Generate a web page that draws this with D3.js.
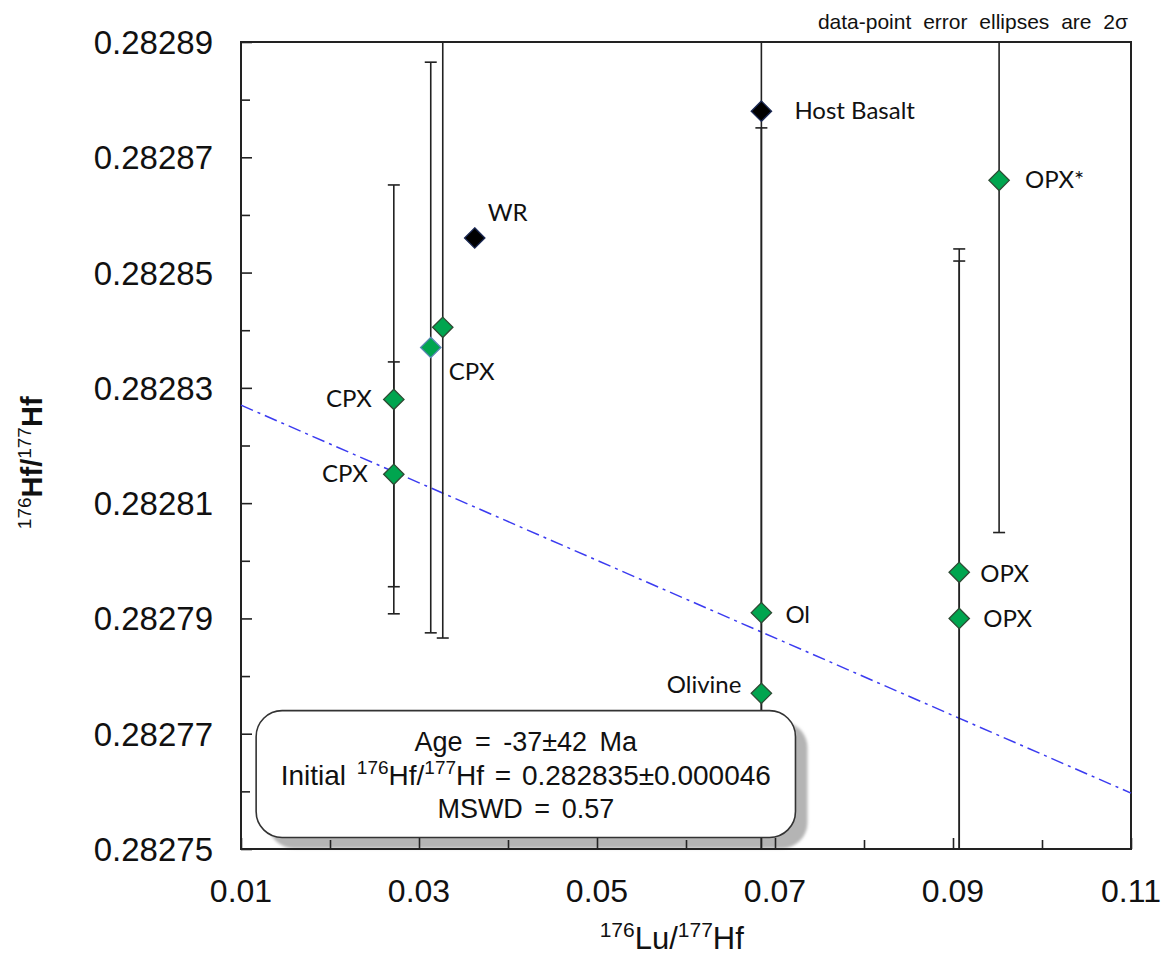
<!DOCTYPE html>
<html>
<head>
<meta charset="utf-8">
<script src="https://cdn.jsdelivr.net/npm/d3@7"></script>
<style>
  html, body { margin: 0; padding: 0; background: #fff; }
  svg text { font-family: "Liberation Sans", Arial, sans-serif; }
</style>
</head>
<body>
<div id="chart"></div>
<script>
// ===========================
// Lu-Hf isochron plot
// 176Lu/177Hf vs 176Hf/177Hf, mineral separates + whole rock
// ===========================

// ── Data ──────────────────────────────────────────────────────────────────
const sampleLabels = ['CPX', 'CPX', 'CPX', '', 'WR', 'Host Basalt', 'Ol', 'Olivine', 'OPX*', 'OPX', 'OPX'];
const sampleType   = ['mineral', 'mineral', 'mineral-alt', 'mineral', 'rock', 'rock', 'mineral', 'mineral', 'mineral', 'mineral', 'mineral'];
const luHf         = [0.02717, 0.02717, 0.03132, 0.03267, 0.03626, 0.06847, 0.06847, 0.06847, 0.09518, 0.0907, 0.0907];
const hfHf         = [0.282828, 0.282815, 0.282837, 0.2828405, 0.282856, 0.282878, 0.282791, 0.282777, 0.282866, 0.282798, 0.282790];
const hfErr2s      = [0.0000372, 0.0000195, 0.0000495, 0.0000539, 0, 0, 0.0000841, 0.000120, 0.0000611, 0.0000540, 0.0000641];

// isochron (regression line) end values
const isoX = [0.01, 0.11];
const isoY = [0.282827, 0.2827597];

const xMajorTicks = [0.01, 0.03, 0.05, 0.07, 0.09, 0.11];
const xMinorTicks = [0.02, 0.04, 0.06, 0.08, 0.10];
const yMajorTicks = [0.28275, 0.28277, 0.28279, 0.28281, 0.28283, 0.28285, 0.28287, 0.28289];
const yMinorTicks = [0.28276, 0.28278, 0.28280, 0.28282, 0.28284, 0.28286, 0.28288];

const resultLines = ['Age = -37±42 Ma', 'Hf = 0.282835±0.000046', 'MSWD = 0.57'];

// label offsets in px relative to each point (layout only)
const labelOffset = [
    { dx: -22, dy: 8, anchor: 'end' },
    { dx: -26, dy: 8, anchor: 'end' },
    { dx: 18, dy: 32, anchor: 'start' },
    null,
    { dx: 13, dy: -17, anchor: 'start' },
    { dx: 33, dy: 8, anchor: 'start' },
    { dx: 24, dy: 10, anchor: 'start' },
    { dx: -20, dy: 0, anchor: 'end' },
    { dx: 26, dy: 8, anchor: 'start' },
    { dx: 21, dy: 10, anchor: 'start' },
    { dx: 24, dy: 9, anchor: 'start' }
];

// ── Layout ────────────────────────────────────────────────────────────────
const width = 1169, height = 958;
const margin = { top: 42, right: 38, bottom: 109, left: 241 };
const innerW = width - margin.left - margin.right;
const innerH = height - margin.top - margin.bottom;

const svg = d3.select('#chart').append('svg')
    .attr('width', width)
    .attr('height', height);

const defs = svg.append('defs');
defs.append('clipPath').attr('id', 'plot-clip')
    .append('rect').attr('width', innerW).attr('height', innerH);
defs.append('filter').attr('id', 'soft')
    .attr('x', '-10%').attr('y', '-10%').attr('width', '120%').attr('height', '130%')
    .append('feGaussianBlur').attr('stdDeviation', 1.6);

const g = svg.append('g')
    .attr('transform', `translate(${margin.left},${margin.top})`);

// ── Scales ────────────────────────────────────────────────────────────────
const x = d3.scaleLinear().domain([0.01, 0.11]).range([0, innerW]);
const y = d3.scaleLinear().domain([0.28275, 0.28289]).range([innerH, 0]);

// ── Results box shadow (sits under ticks and error bars) ─────────────────
const box = { x0: 0.0117, x1: 0.0723, y0: 0.282752, y1: 0.282774 };
g.append('rect')
    .attr('x', x(box.x0) + 12)
    .attr('y', y(box.y1) + 11)
    .attr('width', x(box.x1) - x(box.x0))
    .attr('height', y(box.y0) - y(box.y1))
    .attr('rx', 26)
    .attr('fill', '#b4b4b4')
    .attr('filter', 'url(#soft)');

// ── Frame and ticks ───────────────────────────────────────────────────────
g.append('rect')
    .attr('width', innerW)
    .attr('height', innerH)
    .attr('fill', 'none')
    .attr('stroke', '#222')
    .attr('stroke-width', 2);

const yAxisMajor = g.append('g')
    .call(d3.axisRight(y).tickValues(yMajorTicks).tickSize(11).tickFormat(''));
const yAxisMinor = g.append('g')
    .call(d3.axisRight(y).tickValues(yMinorTicks).tickSize(9).tickFormat(''));
const xAxisMajor = g.append('g')
    .attr('transform', `translate(0,${innerH})`)
    .call(d3.axisTop(x).tickValues(xMajorTicks).tickSize(11).tickFormat(''));
const xAxisMinor = g.append('g')
    .attr('transform', `translate(0,${innerH})`)
    .call(d3.axisTop(x).tickValues(xMinorTicks).tickSize(9).tickFormat(''));
[yAxisMajor, yAxisMinor, xAxisMajor, xAxisMinor].forEach(a => {
    a.select('.domain').remove();
    a.selectAll('line').attr('stroke', '#222').attr('stroke-width', 1.6);
});

// tick labels
g.append('g').selectAll('text')
    .data(yMajorTicks)
    .join('text')
    .attr('x', -28)
    .attr('y', d => y(d) + 12)
    .attr('text-anchor', 'end')
    .style('font-size', '33px')
    .style('fill', '#111')
    .text(d => d.toFixed(5));

g.append('g').selectAll('text')
    .data(xMajorTicks)
    .join('text')
    .attr('x', d => x(d))
    .attr('y', innerH + 53)
    .attr('text-anchor', 'middle')
    .style('font-size', '32px')
    .style('fill', '#111')
    .text(d => d.toFixed(2));

// text with raised isotope numbers: parts = [[text, isSuperscript], ...]
function isotopeText(sel, parts, big, small, supWeight) {
    const lift = Math.round(big * 0.38);
    let raised = false;
    parts.forEach(([txt, sup]) => {
        const dy = sup && !raised ? -lift : (!sup && raised ? lift : 0);
        raised = sup;
        sel.append('tspan')
            .attr('dy', dy)
            .style('font-size', `${sup ? small : big}px`)
            .style('font-weight', sup ? supWeight : null)
            .text(txt);
    });
}

const xTitle = svg.append('text')
    .attr('x', margin.left + x(0.0584))
    .attr('y', 949)
    .attr('text-anchor', 'middle')
    .style('fill', '#111');
isotopeText(xTitle, [['176', true], ['Lu/', false], ['177', true], ['Hf', false]], 31, 21, null);

const yTitle = svg.append('text')
    .attr('transform', `translate(42,${margin.top + y(0.282817)}) rotate(-90)`)
    .attr('text-anchor', 'middle')
    .style('fill', '#111')
    .style('font-weight', 'bold');
isotopeText(yTitle, [['176', true], ['Hf/', false], ['177', true], ['Hf', false]], 29, 19, 'normal');

svg.append('text')
    .attr('x', 1128)
    .attr('y', 29)
    .attr('text-anchor', 'end')
    .style('font-size', '21px')
    .style('word-spacing', '6px')
    .style('fill', '#111')
    .text('data-point error ellipses are 2σ');

// ── Isochron line ─────────────────────────────────────────────────────────
g.append('line')
    .attr('x1', x(isoX[0])).attr('y1', y(isoY[0]))
    .attr('x2', x(isoX[1])).attr('y2', y(isoY[1]))
    .attr('stroke', '#3b3bf0')
    .attr('stroke-width', 1.5)
    .attr('stroke-dasharray', '13,5,3,5');

// ── Error bars ────────────────────────────────────────────────────────────
const points = luHf.map((lu, i) => ({
    lu, hf: hfHf[i], err: hfErr2s[i], label: sampleLabels[i], type: sampleType[i], off: labelOffset[i]
}));

const bars = g.append('g').attr('clip-path', 'url(#plot-clip)');
points.filter(d => d.err > 0).forEach(d => {
    const cx = x(d.lu);
    bars.append('line')
        .attr('x1', cx).attr('x2', cx)
        .attr('y1', y(d.hf + d.err)).attr('y2', y(d.hf - d.err))
        .attr('stroke', '#222').attr('stroke-width', 1.6);
    [d.hf + d.err, d.hf - d.err].forEach(v => {
        bars.append('line')
            .attr('x1', cx - 6).attr('x2', cx + 6)
            .attr('y1', y(v)).attr('y2', y(v))
            .attr('stroke', '#222').attr('stroke-width', 1.6);
    });
});

// ── Diamonds ──────────────────────────────────────────────────────────────
const diamond = d3.symbol().type(d3.symbolDiamond2).size(2 * 11.5 * 11.5);
g.append('g').selectAll('path')
    .data(points)
    .join('path')
    .attr('transform', d => `translate(${x(d.lu)},${y(d.hf)})`)
    .attr('d', diamond)
    .attr('fill', d => d.type === 'rock' ? '#000' : '#00a54f')
    .attr('stroke', d => d.type === 'rock' ? '#1c2a55' : d.type === 'mineral-alt' ? '#5a86b4' : '#2d4a33')
    .attr('stroke-width', 1.3);

// ── Point labels ──────────────────────────────────────────────────────────
g.append('g').selectAll('text')
    .data(points.filter(d => d.label))
    .join('text')
    .attr('x', d => x(d.lu) + d.off.dx)
    .attr('y', d => y(d.hf) + d.off.dy)
    .attr('text-anchor', d => d.off.anchor)
    .style('font-family', 'Lato, "Open Sans", sans-serif')
    .style('font-size', '24px')
    .style('fill', '#111')
    .text(d => d.label);

// ── Results box ───────────────────────────────────────────────────────────
g.append('rect')
    .attr('x', x(box.x0))
    .attr('y', y(box.y1))
    .attr('width', x(box.x1) - x(box.x0))
    .attr('height', y(box.y0) - y(box.y1))
    .attr('rx', 26)
    .attr('fill', '#fff')
    .attr('stroke', '#333')
    .attr('stroke-width', 1.6);

const boxCx = (x(box.x0) + x(box.x1)) / 2;
const lineY = [y(box.y1) + 40, y(box.y1) + 74, y(box.y1) + 107];

g.append('text')
    .attr('x', boxCx).attr('y', lineY[0])
    .attr('text-anchor', 'middle')
    .style('font-size', '27px')
    .style('word-spacing', '5px')
    .style('fill', '#111')
    .text(resultLines[0]);

const initText = g.append('text')
    .attr('x', boxCx).attr('y', lineY[1])
    .attr('text-anchor', 'middle')
    .style('font-size', '28px')
    .style('word-spacing', '3px')
    .style('fill', '#111');
isotopeText(initText, [['Initial ', false], ['176', true], ['Hf/', false], ['177', true], [resultLines[1], false]], 28, 19, null);

g.append('text')
    .attr('x', boxCx).attr('y', lineY[2])
    .attr('text-anchor', 'middle')
    .style('font-size', '27px')
    .style('word-spacing', '4px')
    .style('fill', '#111')
    .text(resultLines[2]);
</script>
</body>
</html>
